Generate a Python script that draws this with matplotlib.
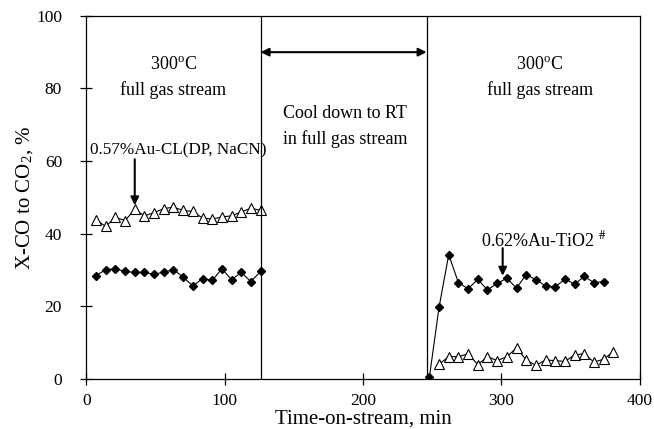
import matplotlib
matplotlib.use("Agg")
import matplotlib.pyplot as plt

plt.rcParams['font.family'] = ['Liberation Serif', 'DejaVu Serif']
plt.rcParams['mathtext.fontset'] = 'stix'

# first 300 C period
t_left = [7, 14, 21, 28, 35, 42, 49, 56, 63, 70, 77, 84, 91, 98, 105, 112, 119, 126]
cl_left = [43.8, 42.0, 44.5, 43.6, 46.7, 44.9, 45.8, 46.9, 47.3, 46.4, 46.1, 44.3,
           44.0, 44.6, 44.9, 46.0, 47.0, 46.4]
tio2_left = [28.4, 30.1, 30.3, 29.6, 29.3, 29.3, 28.8, 29.4, 30.1, 28.0, 25.6, 27.6,
             27.1, 30.3, 27.3, 29.3, 26.8, 29.6]

# second 300 C period
t_tio2_right = [248, 255, 262, 269, 276, 283, 290, 297, 304, 311, 318, 325, 332,
                339, 346, 353, 360, 367, 374]
tio2_right = [0.4, 19.7, 34.2, 26.5, 24.8, 27.4, 24.5, 26.3, 27.7, 25.0, 28.7, 27.3,
              25.6, 25.3, 27.5, 26.1, 28.2, 26.5, 26.8]
t_cl_right = [255, 262, 269, 276, 283, 290, 297, 304, 311, 318, 325, 332, 339,
              346, 353, 360, 367, 374, 381]
cl_right = [4.0, 6.1, 6.1, 6.9, 3.9, 6.1, 5.0, 6.1, 8.5, 5.2, 3.7, 5.2, 5.0, 4.8,
            6.6, 6.9, 4.6, 5.4, 7.5]

cool_start = 126
cool_end = 246

fig = plt.figure(figsize=(6.54, 4.29), dpi=100)
ax = fig.add_axes([0.132, 0.117, 0.846, 0.846])

tri = dict(color="black", lw=0.8, marker="^", ms=6.5, mfc="white", mec="black", mew=0.8)
dia = dict(color="black", lw=0.8, marker="D", ms=4.5, mfc="black", mec="black")

ax.plot(t_left, cl_left, **tri)
ax.plot(t_left, tio2_left, **dia)
ax.plot(t_cl_right, cl_right, **tri)
ax.plot(t_tio2_right, tio2_right, **dia)

ax.axvline(cool_start, color="black", lw=0.9)
ax.axvline(cool_end, color="black", lw=0.9)
ax.annotate("", xy=(cool_start, 90), xytext=(cool_end, 90),
            arrowprops=dict(arrowstyle="<|-|>", color="black", lw=1.5,
                            mutation_scale=12, shrinkA=0, shrinkB=0))

fs = 13
ax.text(63, 86.5, "300$^{\\mathregular{o}}$C", ha="center", va="center", fontsize=fs)
ax.text(63, 79.5, "full gas stream", ha="center", va="center", fontsize=fs)
ax.text(328, 86.5, "300$^{\\mathregular{o}}$C", ha="center", va="center", fontsize=fs)
ax.text(328, 79.5, "full gas stream", ha="center", va="center", fontsize=fs)
ax.text(187, 73, "Cool down to RT", ha="center", va="center", fontsize=fs)
ax.text(187, 66, "in full gas stream", ha="center", va="center", fontsize=fs)

ax.text(2.5, 63, "0.57%Au-CL(DP, NaCN)", ha="left", va="center", fontsize=12.3)
ax.annotate("", xy=(35, 47.8), xytext=(35, 60.5),
            arrowprops=dict(arrowstyle="-|>", color="black", lw=1.5,
                            mutation_scale=12, shrinkA=0, shrinkB=0))
ax.text(285.5, 38.2, "0.62%Au-TiO2 $^{\\#}$", ha="left", va="center", fontsize=13)
ax.annotate("", xy=(301, 28.4), xytext=(301, 36),
            arrowprops=dict(arrowstyle="-|>", color="black", lw=1.5,
                            mutation_scale=12, shrinkA=0, shrinkB=0))

ax.set_xlim(0, 400)
ax.set_ylim(0, 100)
ax.set_xticks([0, 100, 200, 300, 400])
ax.set_yticks([0, 20, 40, 60, 80, 100])
ax.tick_params(direction="inout", length=9, width=0.9, labelsize=12.5)
ax.tick_params(axis="x", pad=6)
ax.tick_params(axis="y", pad=13)
for s in ax.spines.values():
    s.set_linewidth(0.9)

ax.set_xlabel("Time-on-stream, min", fontsize=15, labelpad=0)
ax.set_ylabel("X-CO to CO$_{\\mathregular{2}}$, %", fontsize=15, labelpad=1)

fig.savefig("out.png", dpi=100)
